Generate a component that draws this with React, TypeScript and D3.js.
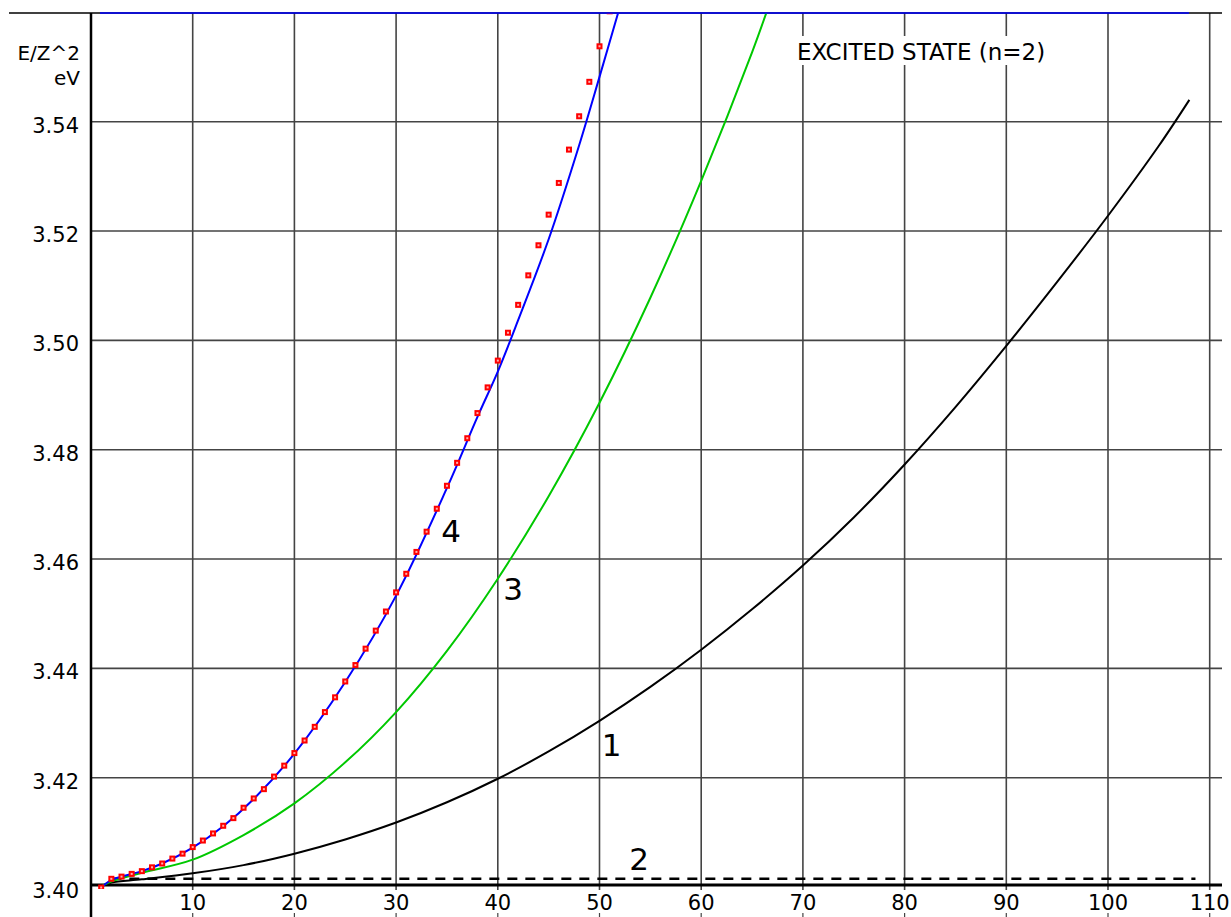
import React from 'react';
import * as d3 from 'd3';

// tick labels
const xTicks = [10, 20, 30, 40, 50, 60, 70, 80, 90, 100, 110];
const yTicks = [3.40, 3.42, 3.44, 3.46, 3.48, 3.50, 3.52, 3.54];

// curve 1 (black)
const c1X = [1, 2, 5, 10, 15, 20, 25, 30, 35, 40, 45, 50, 55, 60, 65, 70, 75, 80, 85, 90, 95, 100, 105, 108];
const c1Y = [3.4001, 3.4008, 3.4014, 3.4025, 3.4040, 3.4061, 3.4087, 3.4118, 3.4155, 3.4198, 3.4248, 3.4304, 3.4366, 3.4434, 3.4508, 3.4588, 3.4676, 3.4773, 3.4878, 3.4990, 3.5107, 3.5228, 3.5356, 3.5440];

// curve 2 (dashed)
const c2X = [2, 108.6];
const c2Y = [3.4015, 3.4015];

// curve 3 (green)
const c3X = [1, 2, 5, 10, 15, 20, 25, 30, 35, 40, 45, 50, 55, 60, 65, 67];
const c3Y = [3.4001, 3.4010, 3.4026, 3.4050, 3.4095, 3.4153, 3.4228, 3.4320, 3.4432, 3.4564, 3.4715, 3.4886, 3.5078, 3.5292, 3.5527, 3.5631];

// curve 4 (blue)
const c4X = [1, 2, 3, 5, 7, 10, 13, 16, 20, 25, 30, 35, 38, 40, 42, 45, 48, 50, 52];
const c4Y = [3.3999, 3.4013, 3.4019, 3.4029, 3.4043, 3.4072, 3.4111, 3.4161, 3.4244, 3.4375, 3.4533, 3.4730, 3.4860, 3.4943, 3.5037, 3.5185, 3.5357, 3.5482, 3.5610];

// red points
const ptX = d3.range(1, 52);
const ptY = [3.3999, 3.4015, 3.4019, 3.4024, 3.4029, 3.4036, 3.4043, 3.4052, 3.4061, 3.4073,
  3.4085, 3.4098, 3.4112, 3.4126, 3.4145, 3.4162, 3.4179, 3.4202, 3.4222, 3.4245,
  3.4268, 3.4293, 3.4320, 3.4347, 3.4376, 3.4406, 3.4436, 3.4469, 3.4504, 3.4539,
  3.4573, 3.4613, 3.4650, 3.4692, 3.4734, 3.4776, 3.4821, 3.4867, 3.4914, 3.4963,
  3.5014, 3.5065, 3.5119, 3.5174, 3.5230, 3.5288, 3.5349, 3.5410, 3.5473, 3.5538, 3.5602];

const labels = [
  { text: '4', x: 35.4, y: 3.4631 },
  { text: '3', x: 41.5, y: 3.4525 },
  { text: '1', x: 51.2, y: 3.4240 },
  { text: '2', x: 53.9, y: 3.4031 },
];

const W = 1231;
const H = 917;
const FONT = '"DejaVu Sans", sans-serif';

const x = d3.scaleLinear().domain([0, 110]).range([91, 1209.7]);
const y = d3.scaleLinear().domain([3.40, 3.56]).range([887, 12.4]);

const line = d3.line<number[]>()
  .x(d => x(d[0]))
  .y(d => y(d[1]))
  .curve(d3.curveCatmullRom.alpha(0.5));

const zip = (a: number[], b: number[]) => a.map((v, i) => [v, b[i]]);

export default function App() {
  const top = 13;
  const bottom = 885;
  const right = 1222;
  return (
    <div style={{ position: 'absolute', left: 0, top: 0 }}>
      <svg width={W} height={H} style={{ display: 'block', background: '#fff' }}>
        <defs>
          <clipPath id="plot">
            <rect x={91} y={top} width={right - 91} height={bottom - top + 4} />
          </clipPath>
        </defs>

        {/* grid */}
        {yTicks.slice(1).map(t => (
          <line key={'gy' + t} x1={91} x2={right} y1={y(t)} y2={y(t)} stroke="#444" strokeWidth={1.6} />
        ))}
        {xTicks.map(t => (
          <line key={'gx' + t} x1={x(t)} x2={x(t)} y1={top} y2={890} stroke="#444" strokeWidth={1.6} />
        ))}
        {xTicks.map(t => (
          <line key={'tk' + t} x1={x(t)} x2={x(t)} y1={913} y2={917} stroke="#444" strokeWidth={1.2} />
        ))}

        {/* axes */}
        <line x1={91} x2={91} y1={top} y2={H} stroke="#000" strokeWidth={2.5} />
        <line x1={91} x2={right} y1={bottom} y2={bottom} stroke="#000" strokeWidth={3} />
        <line x1={9} x2={right} y1={top} y2={top} stroke="#000" strokeWidth={1.5} />

        {/* tick labels */}
        {yTicks.map(t => (
          <text key={'ly' + t} x={79} y={y(t) + 11} textAnchor="end" fontFamily={FONT} fontSize={21} fill="#000">
            {t.toFixed(2)}
          </text>
        ))}
        {xTicks.map(t => (
          <text key={'lx' + t} x={x(t)} y={910} textAnchor="middle" fontFamily={FONT} fontSize={21} fill="#000">
            {t}
          </text>
        ))}
        <text x={80} y={60} textAnchor="end" fontFamily={FONT} fontSize={20}>E/Z^2</text>
        <text x={80} y={85} textAnchor="end" fontFamily={FONT} fontSize={20}>eV</text>

        {/* curves */}
        <g clipPath="url(#plot)" fill="none">
          <path d={line(zip(c2X, c2Y)) || ''} stroke="#000" strokeWidth={2.5} strokeDasharray="10,8" />
          <path d={line(zip(c1X, c1Y)) || ''} stroke="#000" strokeWidth={2} />
          <path d={line(zip(c3X, c3Y)) || ''} stroke="#00c800" strokeWidth={2} />
          <path d={line(zip(c4X, c4Y)) || ''} stroke="#0000ff" strokeWidth={2} />
          {ptX.map((v, i) => (
            <g key={'p' + v}>
              <rect x={x(v) - 3} y={y(ptY[i]) - 3} width={6} height={6} fill="#ff0000" />
              <rect x={x(v) - 1} y={y(ptY[i]) - 1} width={2} height={2} fill="#ffb0b0" />
            </g>
          ))}
        </g>

        {/* curve numbers */}
        {labels.map(l => (
          <text key={'c' + l.text} x={x(l.x)} y={y(l.y)} textAnchor="middle" fontFamily={FONT} fontSize={31} fill="#000">
            {l.text}
          </text>
        ))}

        {/* title */}
        <rect x={794} y={36} width={260} height={29} fill="#fff" />
        <text x={797} y={60} fontFamily={FONT} fontSize={23} fill="#000">EXCITED STATE (n=2)</text>

        <line x1={100} x2={1189} y1={top} y2={top} stroke="#0000ff" strokeWidth={1.5} />
      </svg>
    </div>
  );
}
